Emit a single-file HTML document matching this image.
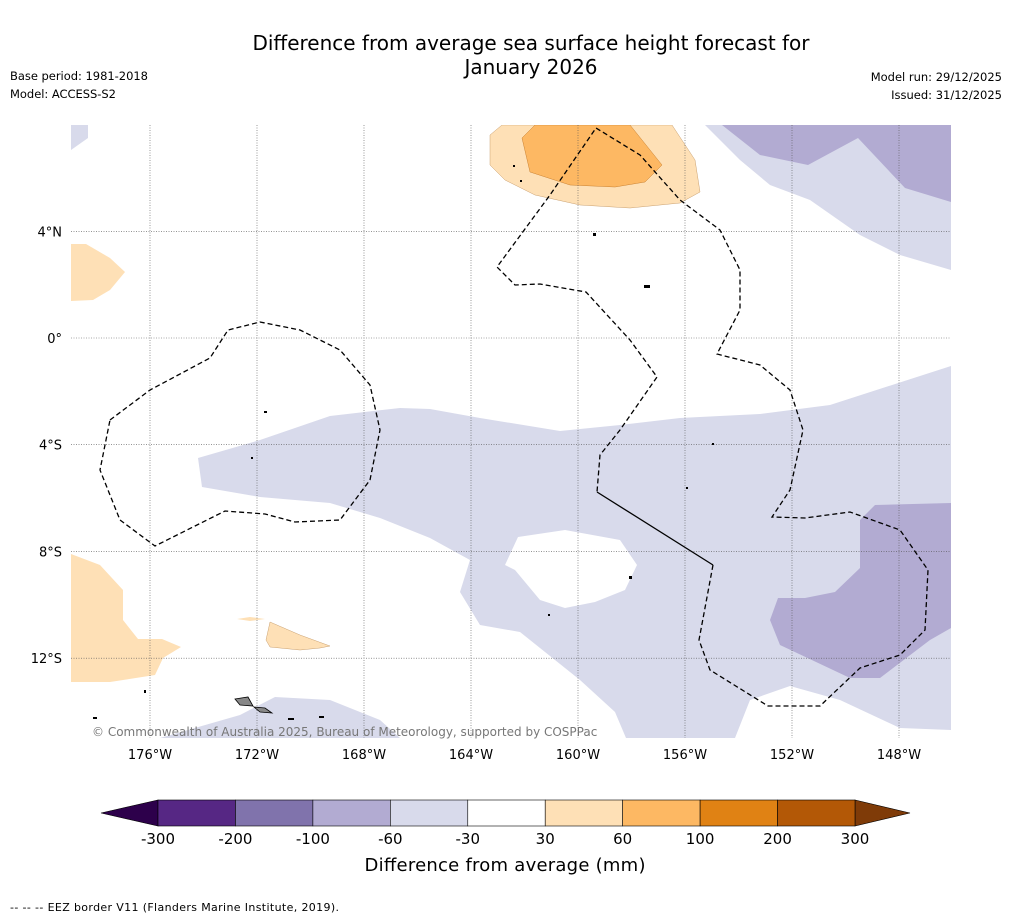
<!DOCTYPE html>
<html><head><meta charset="utf-8"><style>
body{margin:0;background:#fff;font-family:"Liberation Sans","DejaVu Sans",sans-serif}
svg text{font-family:"DejaVu Sans","Liberation Sans",sans-serif}
</style></head><body>
<svg id="chart" width="1011" height="919" xmlns="http://www.w3.org/2000/svg">
<text x="531" y="50" font-size="20" text-anchor="middle">Difference from average sea surface height forecast for</text>
<text x="531" y="74" font-size="20" text-anchor="middle">January 2026</text>
<text x="10" y="80" font-size="11.5" textLength="138">Base period: 1981-2018</text>
<text x="10" y="98" font-size="11.5" textLength="106">Model: ACCESS-S2</text>
<text x="1002" y="81" font-size="11.5" text-anchor="end">Model run: 29/12/2025</text>
<text x="1002" y="99" font-size="11.5" text-anchor="end">Issued: 31/12/2025</text>
<g>
<clipPath id="mc"><rect x="71" y="125" width="880" height="613"/></clipPath>
<g clip-path="url(#mc)">
<polygon fill="#d8daeb" points="71,125 88,125 88,138 71,150"/>
<polygon fill="#d8daeb" points="198,458 260,440 330,416 400,408 430,409 480,418 560,431 620,425 680,418 760,414 830,405 951,366 951,730 900,728 840,700 790,686 750,700 735,738 626,738 615,712 580,680 555,660 520,632 480,625 460,592 470,560 430,538 380,518 330,503 260,497 202,487"/>
<polygon fill="#fff" points="505,565 518,537 565,530 620,540 637,565 625,590 595,602 565,608 540,600 515,570"/>
<polygon fill="#b2abd2" points="860,520 875,505 951,503 951,628 930,640 880,678 850,678 780,645 770,620 778,598 805,598 835,592 860,568"/>
<polygon fill="#d8daeb" points="705,125 740,160 770,185 810,200 860,235 900,255 951,270 951,125"/>
<polygon fill="#b2abd2" points="722,125 760,155 808,165 858,138 905,188 951,202 951,125"/>
<polygon fill="#d8daeb" points="160,738 240,715 275,697 330,700 380,720 400,738"/>
<polygon fill="#fee0b6" stroke="#c9a070" stroke-width="0.5" points="490,135 502,125 672,125 695,160 700,192 680,203 630,208 580,205 535,195 505,180 490,165"/>
<polygon fill="#fdb863" stroke="#c98030" stroke-width="0.5" points="522,138 535,125 630,125 662,165 645,182 615,187 570,185 530,172"/>
<polygon fill="#fee0b6" points="71,244 86,244 110,258 125,272 110,290 93,300 71,301"/>
<polygon fill="#fee0b6" points="71,554 100,565 123,590 123,620 138,639 162,639 181,647 163,658 155,675 110,682 71,682"/>
<polygon fill="#fee0b6" stroke="#c9a070" stroke-width="0.5" points="270,622 300,635 330,646 320,648 300,650 270,647 266,640"/>
<polygon fill="#fee0b6" points="237,619 250,617 265,619 250,621"/>
<g id="grid"></g>
<polyline fill="none" stroke="#000" stroke-width="1.3" stroke-dasharray="5,3" points="110,420 150,390 210,358 228,330 260,322 300,330 340,350 370,385 380,430 370,480 340,520 295,522 265,514 225,511 155,546 120,520 100,470 110,420"/>
<polyline fill="none" stroke="#000" stroke-width="1.3" stroke-dasharray="5,3" points="713,565 699,640 710,670 768,706 820,706 860,668 900,655 925,630 928,570 900,530 850,512 805,518 772,517 790,490 803,430 790,390 760,365 717,354 740,310 740,270 720,230 680,200 640,155 596,128 550,195 497,267 515,285 540,284 586,292 630,340 657,377 620,430 600,455 597,492"/>
<line x1="597" y1="492" x2="713" y2="565" stroke="#000" stroke-width="1.3"/>
<polygon fill="#888" stroke="#000" stroke-width="0.8" points="235,699 248,697 253,706 240,705"/>
<polygon fill="#888" stroke="#000" stroke-width="0.8" points="254,707 265,708 272,713 260,712"/>
<g fill="#000">
<rect x="264" y="411" width="3" height="2"/><rect x="251" y="457" width="2" height="2"/><rect x="593" y="233" width="3" height="3"/><rect x="644" y="285" width="6" height="3"/><rect x="629" y="576" width="3" height="3"/><rect x="548" y="614" width="2" height="2"/><rect x="144" y="690" width="2" height="3"/><rect x="93" y="717" width="4" height="2"/><rect x="288" y="718" width="6" height="2"/><rect x="319" y="716" width="5" height="2"/><rect x="712" y="443" width="2" height="2"/><rect x="686" y="487" width="2" height="2"/><rect x="513" y="165" width="2" height="2"/><rect x="520" y="180" width="2" height="2"/>
</g>
</g>
<text x="92" y="736" font-size="12" fill="#777">© Commonwealth of Australia 2025, Bureau of Meteorology, supported by COSPPac</text>
</g>
<g id="axes"></g>
<g id="cbar"></g>
<text x="505" y="871" font-size="18" text-anchor="middle" textLength="281">Difference from average (mm)</text>
<text x="10" y="911" font-size="11" textLength="329">--  --  -- EEZ border V11 (Flanders Marine Institute, 2019).</text>
</svg>
<script>
const lonTicks=[-176,-172,-168,-164,-160,-156,-152,-148];
const latTicks=[4,0,-4,-8,-12];
const cbLevels=[-300,-200,-100,-60,-30,30,60,100,200,300];
const cbColors=["#562784","#8073ac","#b2abd2","#d8daeb","#ffffff","#fee0b6","#fdb863","#e08214","#b35806"];
const NS="http://www.w3.org/2000/svg";
const xLon=l=>150+(l+176)*26.75;
const yLat=l=>338-l*26.68;
function mk(t,a,p){const e=document.createElementNS(NS,t);for(const k in a)e.setAttribute(k,a[k]);p.appendChild(e);return e;}
const grid=document.getElementById('grid'),axes=document.getElementById('axes'),cb=document.getElementById('cbar');
lonTicks.forEach(l=>{const x=xLon(l);
const g=mk('line',{x1:x,y1:125,x2:x,y2:738,stroke:'#555','stroke-width':0.6,'stroke-dasharray':'1,1.5'},grid);


const t=mk('text',{x:x,y:759,'font-size':13,'text-anchor':'middle'},axes);t.textContent=Math.abs(l)+'°W';

});
latTicks.forEach(l=>{const y=yLat(l);
const g=mk('line',{x1:71,y1:y,x2:951,y2:y,stroke:'#555','stroke-width':0.6,'stroke-dasharray':'1,1.5'},grid);


const t=mk('text',{x:62,y:y+5,'font-size':13,'text-anchor':'end'},axes);t.textContent=l===0?'0°':Math.abs(l)+'°'+(l>0?'N':'S');

});
const x0=158,w=(855-158)/(cbLevels.length-1),y0=800,h=26;
const a1=mk('polygon',{points:`${x0},${y0} ${x0},${y0+h} 101,${y0+h/2}`,fill:'#2d004b',stroke:'#000','stroke-width':0.6},cb);


const a2=mk('polygon',{points:`855,${y0} 855,${y0+h} 910,${y0+h/2}`,fill:'#7f3b08',stroke:'#000','stroke-width':0.6},cb);


cbColors.forEach((c,i)=>{const r=mk('rect',{x:x0+i*w,y:y0,width:w,height:h,fill:c,stroke:'#000','stroke-width':0.6},cb);

});
cbLevels.forEach((v,i)=>{const t=mk('text',{x:x0+i*w,y:844,'font-size':15,'text-anchor':'middle'},cb);t.textContent=v;

});
</script>
</body></html>
